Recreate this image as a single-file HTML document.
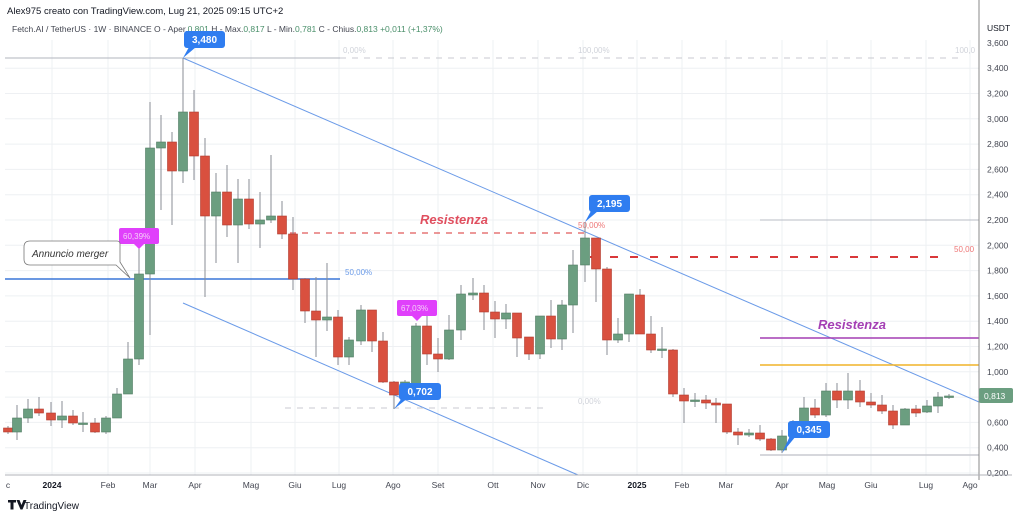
<!DOCTYPE html>
<html><head><meta charset="utf-8"><style>
html,body{margin:0;padding:0;background:#fff;width:1024px;height:517px;overflow:hidden}
svg{display:block;font-family:"Liberation Sans",sans-serif}
</style></head><body>
<svg id="s" width="1024" height="517" viewBox="0 0 1024 517" xmlns="http://www.w3.org/2000/svg">
<rect width="1024" height="517" fill="#fff"/>
<g id="grid" stroke="#eef0f3" stroke-width="1"></g>
<g id="axis"></g>
<!-- top info -->
<text x="7" y="14" font-size="9.5" fill="#131722">Alex975 creato con TradingView.com, Lug 21, 2025 09:15 UTC+2</text>
<text x="12" y="32" font-size="8.5" fill="#434651">Fetch.AI / TetherUS · 1W · BINANCE  O - Aper.<tspan fill="#4a8f6a">0,801</tspan>  H - Max.<tspan fill="#4a8f6a">0,817</tspan>  L - Min.<tspan fill="#4a8f6a">0,781</tspan>  C - Chius.<tspan fill="#4a8f6a">0,813  +0,011 (+1,37%)</tspan></text>
<!-- fib/lines -->
<line x1="5" y1="58" x2="340" y2="58" stroke="#b2b5be" stroke-width="1"/>
<line x1="340" y1="58" x2="960" y2="58" stroke="#c8cad0" stroke-dasharray="6,6"/>
<text x="343" y="53" font-size="8" fill="#d0d3da">0,00%</text>
<text x="578" y="53" font-size="8" fill="#d0d3da">100,00%</text>
<text x="955" y="53" font-size="8" fill="#d0d3da">100,0</text>
<line x1="183" y1="58" x2="979" y2="402" stroke="#6b9be8" stroke-width="1"/>
<line x1="183" y1="303" x2="578" y2="475" stroke="#6b9be8" stroke-width="1"/>
<line x1="5" y1="279" x2="340" y2="279" stroke="#3a76d8" stroke-width="1.5"/>
<text x="345" y="275" font-size="8" fill="#6b9be8">50,00%</text>
<line x1="290" y1="233" x2="585" y2="233" stroke="#e05a5a" stroke-width="1.3" stroke-dasharray="6,6"/>
<text x="420" y="224" font-size="13" font-weight="bold" font-style="italic" fill="#e04f5f">Resistenza</text>
<text x="578" y="228" font-size="8" fill="#e77">50,00%</text>
<line x1="590" y1="257" x2="950" y2="257" stroke="#d9383a" stroke-width="2" stroke-dasharray="8,12"/>
<text x="954" y="252" font-size="8" fill="#e77">50,00</text>
<line x1="285" y1="408" x2="545" y2="408" stroke="#c8cad0" stroke-dasharray="6,6"/>
<text x="578" y="404" font-size="8" fill="#d0d3da">0,00%</text>
<line x1="760" y1="220" x2="979" y2="220" stroke="#b8bcc6" stroke-width="1"/>
<line x1="760" y1="338" x2="979" y2="338" stroke="#a43fb4" stroke-width="1.5"/>
<text x="818" y="329" font-size="13" font-weight="bold" font-style="italic" fill="#a43fb4">Resistenza</text>
<line x1="760" y1="365" x2="979" y2="365" stroke="#f0b429" stroke-width="1.5"/>
<line x1="760" y1="455" x2="979" y2="455" stroke="#c8cad0" stroke-width="1.5"/>
<g id="c"></g>
<!-- labels -->
<g font-size="10" font-weight="bold" fill="#fff">
<path d="M183 58 L189 47 L196 47 Z" fill="#2f7df0"/><rect x="184" y="31" width="41" height="17" rx="3" fill="#2f7df0"/><text x="204.5" y="43" text-anchor="middle">3,480</text>
<path d="M585 222 L591 211 L598 211 Z" fill="#2f7df0"/><rect x="589" y="195" width="41" height="17" rx="3" fill="#2f7df0"/><text x="609.5" y="207" text-anchor="middle">2,195</text>
<path d="M394 409 L402 398 L408 398 Z" fill="#2f7df0"/><rect x="399" y="383" width="42" height="17" rx="3" fill="#2f7df0"/><text x="420" y="395" text-anchor="middle">0,702</text>
<path d="M782 453 L790 436 L796 436 Z" fill="#2f7df0"/><rect x="788" y="421" width="42" height="17" rx="3" fill="#2f7df0"/><text x="809" y="433" text-anchor="middle">0,345</text>
</g>
<g font-size="8" fill="#f5d0f8">
<rect x="119" y="228" width="40" height="16" rx="2" fill="#e040fb"/><path d="M134 244 L139 249 L144 244Z" fill="#e040fb"/><text x="123" y="239">60,39%</text>
<rect x="397" y="300" width="40" height="16" rx="2" fill="#e040fb"/><path d="M412 316 L417 321 L422 316Z" fill="#e040fb"/><text x="401" y="311">67,03%</text>
</g>
<path d="M30 241 H117 Q120 241 120 244 V262 L130 278 L116 265 H30 Q24 265 24 259 V247 Q24 241 30 241Z" fill="#fff" stroke="#777" stroke-width="0.8"/>
<text x="32" y="257" font-size="10" font-style="italic" fill="#333">Annuncio merger</text>
<!-- right axis -->
<line x1="979" y1="0" x2="979" y2="480" stroke="#888" stroke-width="1"/>
<line x1="5" y1="475" x2="1012" y2="475" stroke="#b0b3ba" stroke-width="1"/>
<rect x="982" y="18" width="40" height="20" fill="#fff"/>
<text x="987" y="31" font-size="8.5" fill="#131722">USDT</text>
<rect x="979" y="388" width="34" height="15" rx="2" fill="#6b9e80"/>
<text x="984" y="399" font-size="8.5" fill="#fff">0,813</text>
<g font-size="10" fill="#131722"><path d="M8 500 h8 v2.5 h-2.5 v7 h-3 v-7 h-2.5z M16.5 500 h3 l2 5 l2-5 h3 l-4 9.5 h-2z" fill="#131722"/><text x="24" y="509" font-size="10">TradingView</text></g>
</svg>
<script>
var ns="http://www.w3.org/2000/svg",s=document.getElementById('s');
function el(p,t,a,txt){var e=document.createElementNS(ns,t);for(var k in a)e.setAttribute(k,a[k]);if(txt)e.textContent=txt;p.appendChild(e);return e;}
var g=document.getElementById('grid');
var xs=[52,108,150,195,251,295,339,393,438,493,538,583,637,682,726,782,827,871,926,970];
xs.forEach(function(x){el(g,'line',{x1:x,y1:40,x2:x,y2:475});});
for(var i=0;i<17;i++){var y=473-i*25.3;el(g,'line',{x1:5,y1:y,x2:979,y2:y});}
var ax=document.getElementById('axis');
for(var i=0;i<18;i++){var p=0.2+i*0.2;var y=473-i*25.3+3;if(y<30)continue;el(ax,'text',{x:987,y:y,'font-size':8.5,fill:'#434651'},p.toFixed(3).replace('.',','));}
var lab=[["c",8],["2024",52],["Feb",108],["Mar",150],["Apr",195],["Mag",251],["Giu",295],["Lug",339],["Ago",393],["Set",438],["Ott",493],["Nov",538],["Dic",583],["2025",637],["Feb",682],["Mar",726],["Apr",782],["Mag",827],["Giu",871],["Lug",926],["Ago",970]];
lab.forEach(function(l){var b=(l[0]=="2024"||l[0]=="2025");el(ax,'text',{x:l[1],y:488,'font-size':8.5,'text-anchor':'middle',fill:b?'#131722':'#434651','font-weight':b?'bold':'normal'},l[0]);});
// [x, bodyTop, bodyBot, wickTop, wickBot, g/r]
var C=[[8,428,432,426,434,'r'],[17,418,432,405,440,'g'],[28,409,418,399,423,'g'],[39,409,413,397,416,'r'],[51,413,420,402,426,'r'],[62,416,420,401,428,'g'],[73,416,423,410,425,'r'],[83,423,424,412,432,'g'],[95,423,432,418,433,'r'],[106,418,432,416,434,'g'],[117,394,418,388,418,'g'],[128,359,394,342,394,'g'],[139,274,359,248,365,'g'],[150,148,274,102,335,'g'],[161,142,148,115,210,'g'],[172,142,171,132,225,'r'],[183,112,171,58,183,'g'],[194,112,156,90,180,'r'],[205,156,216,138,297,'r'],[216,192,216,173,263,'g'],[227,192,225,165,237,'r'],[238,199,225,179,263,'g'],[249,199,224,179,229,'r'],[260,220,224,192,248,'g'],[271,216,220,155,223,'g'],[282,216,234,201,239,'r'],[293,234,279,217,290,'r'],[305,279,311,278,323,'r'],[316,311,320,277,357,'r'],[327,317,320,263,331,'g'],[338,317,357,310,365,'r'],[349,340,357,337,365,'g'],[361,310,341,305,345,'g'],[372,310,341,310,352,'r'],[383,341,382,332,383,'r'],[394,382,395,381,409,'r'],[405,382,395,380,398,'g'],[416,326,395,323,395,'g'],[427,326,354,315,365,'r'],[438,354,359,338,372,'r'],[449,330,359,315,360,'g'],[461,294,330,285,340,'g'],[473,293,295,278,300,'g'],[484,293,312,285,330,'r'],[495,312,319,301,338,'r'],[506,313,319,304,329,'g'],[517,313,338,313,357,'r'],[529,337,354,337,360,'r'],[540,316,354,316,359,'g'],[551,316,339,300,348,'r'],[562,305,339,300,350,'g'],[573,265,305,250,333,'g'],[585,238,265,222,282,'g'],[596,238,269,238,302,'r'],[607,269,340,267,355,'r'],[618,334,340,318,343,'g'],[629,294,334,294,342,'g'],[640,295,334,289,334,'r'],[651,334,350,316,353,'r'],[662,349,350,327,358,'g'],[673,350,394,349,397,'r'],[684,395,401,388,423,'r'],[695,400,401,393,407,'g'],[706,400,403,395,409,'r'],[716,403,405,398,423,'r'],[727,404,432,404,434,'r'],[738,432,435,428,445,'r'],[749,433,435,429,437,'g'],[760,433,439,425,441,'r'],[771,439,450,438,451,'r'],[782,436,450,430,453,'g'],[793,423,436,420,435,'g'],[804,408,423,397,425,'g'],[815,408,415,399,418,'r'],[826,391,415,383,417,'g'],[837,391,400,383,408,'r'],[848,391,400,373,409,'g'],[860,391,402,380,407,'r'],[871,402,405,393,408,'r'],[882,405,411,395,414,'r'],[893,411,425,405,429,'r'],[905,409,425,408,425,'g'],[916,409,413,405,417,'r'],[927,406,412,400,413,'g'],[938,397,406,392,413,'g'],[949,396,397,394,399,'g']];
var cg=document.getElementById('c');
C.forEach(function(c){var col=c[5]=='g'?'#6b9e80':'#d9503f',st=c[5]=='g'?'#4e7a61':'#b03a2e';
el(cg,'line',{x1:c[0],y1:c[3],x2:c[0],y2:c[4],stroke:'#8a8d94','stroke-width':1});
el(cg,'rect',{x:c[0]-4.5,y:c[1],width:9,height:Math.max(1.5,c[2]-c[1]),fill:col,stroke:st,'stroke-width':0.6});});
</script>
</body></html>
